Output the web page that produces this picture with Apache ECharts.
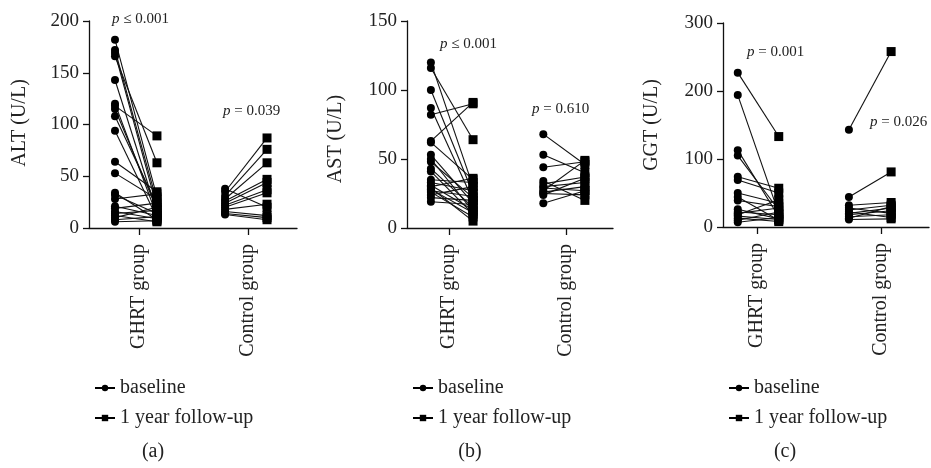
<!DOCTYPE html>
<html>
<head>
<meta charset="utf-8">
<script src="https://cdn.jsdelivr.net/npm/echarts@6/dist/echarts.min.js"></script>
<style>html,body{margin:0;padding:0;background:#fff}#c{width:931px;height:468px}</style>
</head>
<body>
<div id="c"></div>
<script>
// ---- data ----
const categories = ['GHRT group', 'Control group'];
const legendNames = ['baseline', '1 year follow-up'];
const panelLetters = ['(a)', '(b)', '(c)'];
const axisNames = ['ALT (U/L)', 'AST (U/L)', 'GGT (U/L)'];
const pLabels = [['≤ 0.001', '= 0.039'], ['≤ 0.001', '= 0.610'], ['= 0.001', '= 0.026']];

// ALT
const altGhrtBaseline = [182, 172, 169, 166, 143, 120, 118, 115, 108, 94, 64, 53, 34, 32, 28, 21, 19, 16, 14, 12, 10, 8, 6];
const altGhrtFollowup = [30, 25, 20, 63, 15, 12, 89, 18, 22, 10, 35, 28, 8, 14, 33, 12, 24, 9, 17, 6, 20, 11, 7];
const altCtrlBaseline = [38, 35, 31, 28, 26, 24, 22, 20, 18, 16, 14, 13];
const altCtrlFollowup = [20, 87, 76, 63, 47, 44, 37, 34, 23, 12, 10, 8];
// AST
const astGhrtBaseline = [120, 116, 100, 87, 82, 63, 62, 53, 50, 48, 43, 41, 35, 33, 31, 30, 29, 28, 27, 26, 24, 22, 19];
const astGhrtFollowup = [30, 64, 25, 20, 90, 91, 35, 18, 12, 22, 15, 10, 33, 27, 13, 36, 5, 11, 23, 8, 30, 20, 17];
const astCtrlBaseline = [68, 53, 44, 34, 32, 30, 29, 27, 26, 25, 24, 18];
const astCtrlFollowup = [46, 40, 48, 20, 37, 33, 27, 49, 30, 24, 36, 27];
// GGT
const ggtGhrtBaseline = [227, 194, 113, 105, 74, 69, 50, 44, 39, 26, 22, 20, 18, 16, 13, 10, 7];
const ggtGhrtFollowup = [133, 20, 15, 25, 57, 50, 35, 10, 30, 12, 18, 28, 40, 11, 8, 22, 14];
const ggtCtrlBaseline = [143, 44, 32, 28, 25, 22, 20, 18, 15, 13, 11];
const ggtCtrlFollowup = [258, 81, 36, 20, 32, 14, 28, 24, 18, 30, 12];

const yMax = [200, 150, 300];
const yStep = [50, 50, 100];

// ---- layout ----
const FONT = "'Liberation Serif','Times New Roman',serif";
const grids = [
  {left: 89, width: 208, top: 21, bottom: 240},
  {left: 407, width: 206, top: 21, bottom: 240},
  {left: 723, width: 206, top: 23, bottom: 241}
];
const xRange = [[0.083, 3.9], [0.282, 3.80], [0.452, 3.77]];
// x offsets of baseline / follow-up around each category position (1 and 3)
const xOff = [
  [[-0.44, 0.33], [-0.42, 0.35]],
  [[-0.31, 0.41], [-0.39, 0.32]],
  [[-0.31, 0.35], [-0.52, 0.16]]
];
const catPos = [1, 3];

const panelData = [
  [[altGhrtBaseline, altGhrtFollowup], [altCtrlBaseline, altCtrlFollowup]],
  [[astGhrtBaseline, astGhrtFollowup], [astCtrlBaseline, astCtrlFollowup]],
  [[ggtGhrtBaseline, ggtGhrtFollowup], [ggtCtrlBaseline, ggtCtrlFollowup]]
];

const series = [];
panelData.forEach((groups, p) => {
  const basePts = [], folPts = [];
  groups.forEach((g, gi) => {
    const xb = catPos[gi] + xOff[p][gi][0];
    const xf = catPos[gi] + xOff[p][gi][1];
    g[0].forEach((b, i) => {
      const f = g[1][i];
      series.push({
        type: 'line', xAxisIndex: p, yAxisIndex: p, symbol: 'none', silent: true,
        lineStyle: {color: '#111', width: 1.1}, z: 2,
        data: [[xb, b], [xf, f]]
      });
      basePts.push([xb, b]);
      folPts.push([xf, f]);
    });
  });
  series.push({type: 'scatter', name: 'b' + p, xAxisIndex: p, yAxisIndex: p, symbol: 'circle', symbolSize: 8,
    itemStyle: {color: '#000', opacity: 1}, z: 3, data: basePts});
  series.push({type: 'scatter', name: 'f' + p, xAxisIndex: p, yAxisIndex: p, symbol: 'rect', symbolSize: 9,
    itemStyle: {color: '#000', opacity: 1}, z: 3, data: folPts});
});
// legend-only series
series.push({type: 'line', name: legendNames[0], symbol: 'circle', symbolSize: 7, xAxisIndex: 0, yAxisIndex: 0,
  itemStyle: {color: '#000'}, lineStyle: {color: '#000', width: 1.5}, data: []});
series.push({type: 'line', name: legendNames[1], symbol: 'rect', symbolSize: 7, xAxisIndex: 0, yAxisIndex: 0,
  itemStyle: {color: '#000'}, lineStyle: {color: '#000', width: 1.5}, data: []});

const axisLineStyle = {color: '#111', width: 1.3};
const xAxes = grids.map((g, p) => ({
  type: 'value', gridIndex: p, min: xRange[p][0], max: xRange[p][1],
  axisLine: {show: true, onZero: false, lineStyle: axisLineStyle},
  axisTick: {show: true, customValues: catPos, length: 7, lineStyle: axisLineStyle},
  axisLabel: {show: true, customValues: catPos, rotate: 90, margin: 16,
    formatter: v => categories[catPos.indexOf(Math.round(v))] || '',
    fontFamily: FONT, fontSize: 20, color: '#222'},
  splitLine: {show: false}
}));
const yAxes = grids.map((g, p) => ({
  type: 'value', gridIndex: p, min: 0, max: yMax[p], interval: yStep[p],
  axisLine: {show: true, lineStyle: axisLineStyle},
  axisTick: {show: true, length: 6, lineStyle: axisLineStyle},
  axisLabel: {fontFamily: FONT, fontSize: 19, color: '#222', margin: 10},
  splitLine: {show: false}
}));

const legends = grids.map((g, p) => ({
  data: legendNames, orient: 'vertical', left: g.left, top: 373,
  itemWidth: 20, itemHeight: 8, itemGap: 10, selectedMode: false,
  textStyle: {fontFamily: FONT, fontSize: 20, color: '#222'}
}));

const pPos = [[[112, 20], [223, 112]], [[440, 45], [532, 110]], [[747, 53], [870, 123]]];
const nameCenters = [[20, 123], [336, 139], [652, 125]];
const letterX = [153, 470, 785];

const graphic = [];
pLabels.forEach((pl, p) => pl.forEach((t, gi) => {
  graphic.push({type: 'text', left: pPos[p][gi][0], top: pPos[p][gi][1] - 8, z: 10,
    style: {text: '{i|p} ' + t, font: '15px ' + FONT, fill: '#222',
      rich: {i: {fontStyle: 'italic', fontFamily: FONT, fontSize: 15, fill: '#222'}}}});
}));
axisNames.forEach((n, p) => {
  graphic.push({type: 'text', x: nameCenters[p][0], y: nameCenters[p][1], rotation: Math.PI / 2,
    style: {text: n, font: '20px ' + FONT, fill: '#222', align: 'center', verticalAlign: 'middle'}});
});
panelLetters.forEach((l, p) => {
  graphic.push({type: 'text', x: letterX[p], y: 452,
    style: {text: l, font: '20px ' + FONT, fill: '#222', align: 'center', verticalAlign: 'middle'}});
});

const chart = echarts.init(document.getElementById('c'));
chart.setOption({
  animation: false,
  backgroundColor: '#fff',
  grid: grids,
  xAxis: xAxes,
  yAxis: yAxes,
  legend: legends,
  graphic: graphic,
  series: series
});
</script>
</body>
</html>
